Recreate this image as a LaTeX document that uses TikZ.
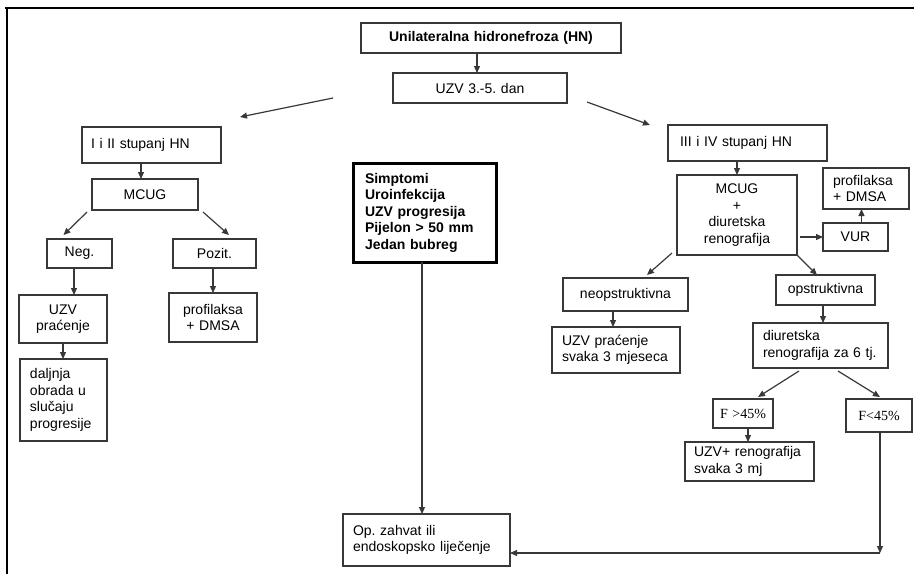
\documentclass[tikz,border=0pt]{standalone}
\usepackage{fontspec}
\setmainfont{Liberation Sans}
\newfontfamily\timesf{Liberation Serif}
\usetikzlibrary{arrows.meta,calc}
\frenchspacing
\newcommand\mkbox[8][]{%
  \pgfmathsetmacro\bw{#5-#3}%
  \pgfmathsetmacro\bh{#6-#4}%
  \pgfmathsetmacro\tw{#5-#3-2*#7}%
  \node[box, minimum width=\bw pt, minimum height=\bh pt, text width=\tw pt, inner xsep=#7pt, #1] (#2) at (#3,#4) {#8};}
\begin{document}
\begin{tikzpicture}[x=1pt,y=-1pt,
  nfont/.style={font=\fontsize{14}{16.5}\selectfont\frenchspacing},
  bfont/.style={font=\fontsize{14}{16.5}\selectfont\bfseries\frenchspacing},
  tfont/.style={font=\fontsize{14}{16.5}\selectfont\timesf},
  box/.style={draw=black!78, line width=1.3pt, rectangle, anchor=north west, outer sep=0pt, inner ysep=2pt, align=left, nfont},
  ctr/.style={align=center},
  arr/.style={draw=black!78, line width=1.2pt, -{Triangle[length=7pt,width=6pt]}},
  frame/.style={draw=black, line width=2.5pt}
]
\useasboundingbox (0,0) rectangle (914,574);
\draw[frame] (5,8) -- (914,8);
\draw[frame] (7,8) -- (7,574);

% top
\mkbox[ctr,bfont]{b1}{361}{23}{621}{53}{4}{Unilateralna hidronefroza (HN)}
\mkbox[ctr]{b2}{393}{73}{567}{103}{4}{UZV 3.-5. dan}

% left branch
\mkbox{l1}{82}{127}{221}{163}{9}{I i II stupanj HN}
\mkbox[ctr]{l2}{92}{179}{198}{210}{3}{MCUG}
\mkbox[ctr]{l3}{47}{239}{112}{268}{3}{Neg.}
\mkbox[ctr]{l4}{173}{239}{256}{268}{3}{Pozit.}
\mkbox[ctr]{l5}{19}{295}{107}{343}{3}{UZV\\praćenje}
\mkbox[ctr]{l6}{169}{293}{257}{342}{3}{profilaksa\\+ DMSA}
\mkbox{l7}{20}{359}{107}{441}{10}{daljnja\\obrada u\\slučaju\\progresije}

% centre
\mkbox[bfont, draw=black, line width=3pt]{c1}{353}{163}{496}{262}{12}{Simptomi\\Uroinfekcija\\UZV progresija\\Pijelon > 50 mm\\Jedan bubreg}
\mkbox{op}{343}{514}{510}{566}{10}{Op. zahvat ili\\endoskopsko liječenje}

% right branch
\mkbox{r1}{668}{125}{827}{161}{12}{III i IV stupanj HN}
\mkbox[ctr]{r2}{677}{175}{797}{255}{3}{MCUG\\+\\diuretska\\renografija}
\mkbox[ctr]{r3}{823}{223}{888}{251}{3}{VUR}
\mkbox{r4}{823}{168}{909}{209}{10}{profilaksa\\+ DMSA}
\mkbox[ctr]{r5}{563}{278}{688}{311}{3}{neopstruktivna}
\mkbox[ctr]{r6}{776}{275}{875}{305}{3}{opstruktivna}
\mkbox{r7}{552}{327}{680}{373}{10}{UZV praćenje\\svaka 3 mjeseca}
\mkbox{r8}{753}{323}{888}{368}{10}{diuretska\\renografija za 6 tj.}
\mkbox[ctr,tfont]{r9}{713}{399}{773}{428}{3}{F >45\%}
\mkbox[ctr,tfont]{r10}{846}{399}{912}{432}{3}{F<45\%}
\mkbox{r11}{685}{442}{814}{481}{9}{UZV+ renografija\\svaka 3 mj}

% connectors
\draw[arr] ([xshift=-3pt]b2.north |- b1.south) -- ([xshift=-3pt]b2.north);
\coordinate (a1s) at (333,98);
\coordinate (a1e) at (240,117);
\draw[arr] (a1s) -- (a1e);
\coordinate (a2s) at (587,102);
\coordinate (a2e) at (650,125);
\draw[arr] (a2s) -- (a2e);

\draw[arr] ([xshift=-4pt]l2.north |- l1.south) -- ([xshift=-4pt]l2.north);
\draw[arr] ($(l2.south west)+(-5,2)$) -- ($(l3.north)+(-16,-4)$);
\draw[arr] ($(l2.south east)+(5,2)$) -- ($(l4.north)+(14.5,-4)$);
\draw[arr] ([xshift=-5.5pt]l3.south) -- ([xshift=-5.5pt]l3.south |- l5.north);
\draw[arr] ([xshift=-1.5pt]l4.south) -- ([xshift=-1.5pt]l4.south |- l6.north);
\draw[arr] (l5.south) -- (l5.south |- l7.north);

\draw[arr] ([xshift=-2.5pt]c1.south) -- ([xshift=-2.5pt]c1.south |- op.north);

\draw[arr] (r2.north |- r1.south) -- (r2.north);
\draw[arr, shorten <=3pt] (r2.east |- r3.west) -- (r3.west);
\draw[arr] ([xshift=6pt]r3.north) -- ([xshift=6pt]r3.north |- r4.south);
\draw[arr] ($(r2.south west)+(-5,-2)$) -- ($(r5.north)+(21.5,-3)$);
\draw[arr] (r2.south east) -- ($(r6.north)+(-8.5,0)$);
\draw[arr] ([xshift=-12.5pt]r5.south) -- ([xshift=-12.5pt]r5.south |- r7.north);
\draw[arr] ([xshift=-2.5pt]r6.south) -- ([xshift=-2.5pt]r6.south |- r8.north);
\draw[arr] ($(r8.south)+(-21.5,3)$) -- ($(r9.north)+(15,-2)$);
\draw[arr] ($(r8.south)+(17.5,3)$) -- ($(r10.north)+(1,-2)$);
\draw[arr] ([xshift=5pt]r9.south) -- ([xshift=5pt]r9.south |- r11.north);

\coordinate (corner) at ($(r10.south |- 0,553)+(1,0)$);
\draw[arr] ([xshift=1pt]r10.south) -- (corner);
\draw[arr] (corner) -- (op.east |- corner);
\end{tikzpicture}
\end{document}
